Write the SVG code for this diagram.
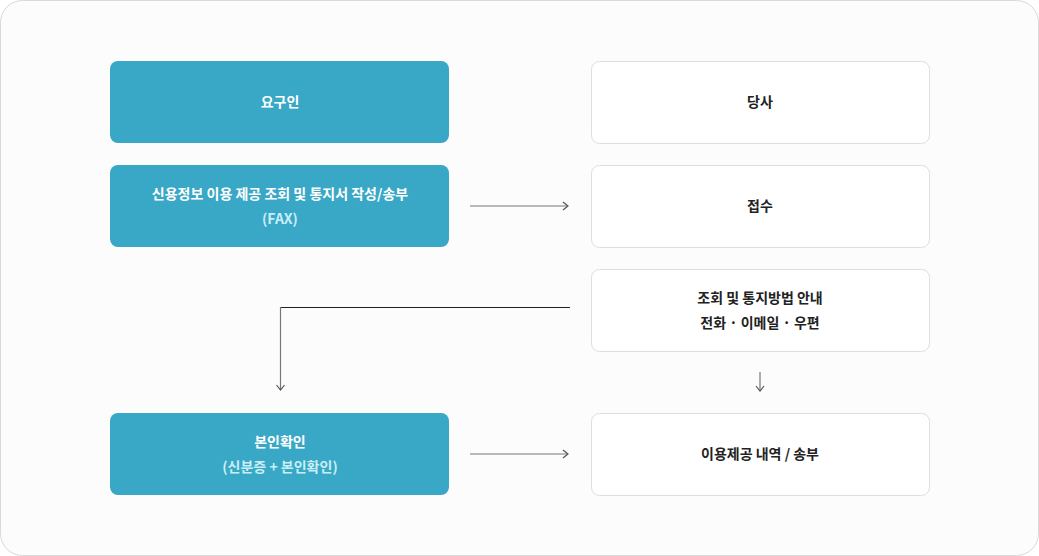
<svg xmlns="http://www.w3.org/2000/svg" width="1039" height="556" viewBox="0 0 1039 556">
<style>
text{font-family:"Noto Sans CJK KR","Noto Sans",sans-serif;font-size:14px;font-weight:bold;text-anchor:middle}
.b{fill:#38a8c6}
.w{fill:#fff;stroke:#dedede}
.tw{fill:#fff}.tl{fill:#c9eef6}.tk{fill:#222}
.c{fill:none;stroke:#777;stroke-width:1.2}
</style>
<defs><marker id="a" markerWidth="10" markerHeight="10" refX="8" refY="5" orient="auto" markerUnits="userSpaceOnUse"><path d="M3,1 L8,5 L3,9" fill="none" stroke="#555" stroke-width="1.2"/></marker></defs>
<rect x="0.5" y="0.5" width="1038" height="555" rx="22" fill="#fcfcfc" stroke="#d9d9d9"/>
<g id="n1"><rect class="b" x="110" y="61" width="339" height="82" rx="8"/><text class="tw" x="280" y="107">요구인</text></g>
<g id="n2"><rect class="b" x="110" y="165" width="339" height="82" rx="8"/><text class="tw" x="280" y="199">신용정보 이용 제공 조회 및 통지서 작성/송부</text><text class="tl" x="280" y="224">(FAX)</text></g>
<g id="n3"><rect class="b" x="110" y="413" width="339" height="82" rx="8"/><text class="tw" x="280" y="447">본인확인</text><text class="tl" x="280" y="472">(신분증 + 본인확인)</text></g>
<g id="n4"><rect class="w" x="591.5" y="61.5" width="338" height="82" rx="8"/><text class="tk" x="760" y="107">당사</text></g>
<g id="n5"><rect class="w" x="591.5" y="165.5" width="338" height="82" rx="8"/><text class="tk" x="760" y="211">접수</text></g>
<g id="n6"><rect class="w" x="591.5" y="269.5" width="338" height="82" rx="8"/><text class="tk" x="760" y="303">조회 및 통지방법 안내</text><text class="tk" x="760" y="328">전화 · 이메일 · 우편</text></g>
<g id="n7"><rect class="w" x="591.5" y="413.5" width="338" height="82" rx="8"/><text class="tk" x="760" y="459">이용제공 내역 / 송부</text></g>
<g id="connectors">
<path class="c" d="M470,206 H568" marker-end="url(#a)"/>
<path class="c" d="M470,454 H568" marker-end="url(#a)"/>
<path d="M570,307.5 H280.5" fill="none" stroke="#222" stroke-width="1"/>
<path class="c" d="M280.5,307 V390" marker-end="url(#a)"/>
<path class="c" d="M760,372 V391" marker-end="url(#a)"/>
</g>
</svg>
